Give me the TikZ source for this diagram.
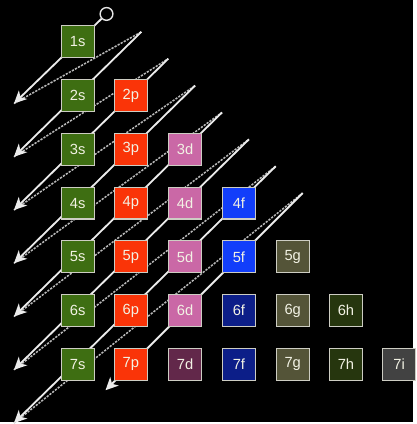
\documentclass[tikz,border=0pt]{standalone}
\usepackage{fontspec}
\setmainfont{Liberation Sans}
\usetikzlibrary{arrows.meta}
\definecolor{cs}{RGB}{62,110,18}
\definecolor{cp}{RGB}{250,52,8}
\definecolor{cd}{RGB}{202,104,166}
\definecolor{cdark}{RGB}{98,40,74}
\definecolor{cf}{RGB}{18,62,250}
\definecolor{cfdark}{RGB}{12,30,136}
\definecolor{cg}{RGB}{84,84,56}
\definecolor{ch}{RGB}{38,54,14}
\definecolor{ci}{RGB}{66,66,66}
\definecolor{cedge}{RGB}{205,205,195}
\definecolor{ctext}{RGB}{242,242,228}
\tikzset{
  orb/.style={     % orbital box
    draw=cedge, line width=0.8pt, inner sep=0pt,
    minimum width=0.825cm, minimum height=0.8cm,
    font=\fontsize{10.5}{12}\selectfont, text=ctext
  },
  sorb/.style={orb, fill=cs},
  porb/.style={orb, fill=cp},
  dorb/.style={orb, fill=cd},
  forb/.style={orb, fill=cf},
  gorb/.style={orb, fill=cg},
  horb/.style={orb, fill=ch},
  iorb/.style={orb, fill=ci},
  farr/.style={-{Stealth[length=9pt, width=8.5pt, inset=2.5pt]},
    line width=1.3pt, color=white!92!black},    % filling order
  rline/.style={line width=1.1pt, color=white!72!black,
    dash pattern=on 1.6pt off 0.9pt},           % return to next diagonal
}

\begin{document}
\begin{tikzpicture}[x=0.025cm, y=-0.025cm]
\fill[black] (0,0) rectangle (415,424);

%% ─── start / end points of the diagonals ─────────────────────────────────────
\node[circle, draw=white!90!black, fill=black, line width=1pt,
      minimum size=0.32cm, inner sep=0pt] (origin) at (107,14) {};

\coordinate (s2) at (142, 32);
\coordinate (s3) at (169, 59);
\coordinate (s4) at (196, 86);
\coordinate (s5) at (223,113);
\coordinate (s6) at (250,140);
\coordinate (s7) at (277,167);
\coordinate (s8) at (304,194);

\coordinate (t1) at (14,104);
\coordinate (t2) at (14,157.5);
\coordinate (t3) at (14,211);
\coordinate (t4) at (14,264.5);
\coordinate (t5) at (14,318);
\coordinate (t6) at (14,371.5);
\coordinate (t7) at (14,425);
\coordinate (t8) at (106,392);

% dashed returns: arrow tip -> start of the next diagonal
\draw[rline] (t1) -- (s2);
\draw[rline] (t2) -- (s3);
\draw[rline] (t3) -- (s4);
\draw[rline] (t4) -- (s5);
\draw[rline] (t5) -- (s6);
\draw[rline] (t6) -- (s7);
\draw[rline] (t7) -- (s8);

% diagonals
\draw[farr] (origin) -- (t1);
\draw[farr] (s2) -- (t2);
\draw[farr] (s3) -- (t3);
\draw[farr] (s4) -- (t4);
\draw[farr] (s5) -- (t5);
\draw[farr] (s6) -- (t6);
\draw[farr] (s7) -- (t7);
\draw[farr] (s8) -- (t8);

%% ─── orbitals ────────────────────────────────────────────────────────────────
\node[sorb] (o1s) at (78, 42) {1s};

\node[sorb] (o2s) at (78, 96) {2s};
\node[porb] (o2p) at (131.5, 96) {2p};

\node[sorb] (o3s) at (78,150) {3s};
\node[porb] (o3p) at (131.5,150) {3p};
\node[dorb] (o3d) at (186,150) {3d};

\node[sorb] (o4s) at (78,204) {4s};
\node[porb] (o4p) at (131.5,204) {4p};
\node[dorb] (o4d) at (186,204) {4d};
\node[forb] (o4f) at (240,204) {4f};

\node[sorb] (o5s) at (78,258) {5s};
\node[porb] (o5p) at (131.5,258) {5p};
\node[dorb] (o5d) at (186,258) {5d};
\node[forb] (o5f) at (240,258) {5f};
\node[gorb] (o5g) at (294,258) {5g};

\node[sorb] (o6s) at (78,312) {6s};
\node[porb] (o6p) at (131.5,312) {6p};
\node[dorb] (o6d) at (186,312) {6d};
\node[forb, fill=cfdark] (o6f) at (240,312) {6f};
\node[gorb] (o6g) at (294,312) {6g};
\node[horb] (o6h) at (347.5,312) {6h};

\node[sorb] (o7s) at (78,366) {7s};
\node[porb] (o7p) at (131.5,366) {7p};
\node[dorb, fill=cdark] (o7d) at (186,366) {7d};
\node[forb, fill=cfdark] (o7f) at (240,366) {7f};
\node[gorb] (o7g) at (294,366) {7g};
\node[horb] (o7h) at (347.5,366) {7h};
\node[iorb] (o7i) at (401,366) {7i};

\end{tikzpicture}
\end{document}
